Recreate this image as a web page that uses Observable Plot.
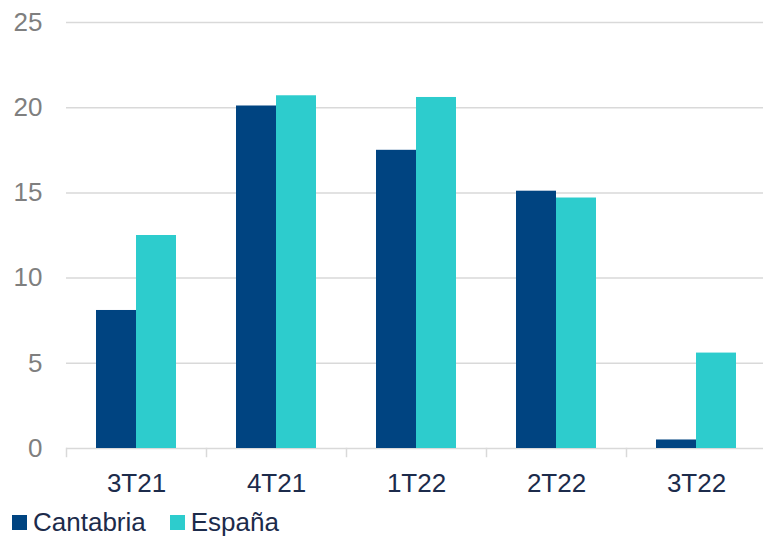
<!DOCTYPE html>
<html>
<head>
<meta charset="utf-8">
<script src="https://cdn.jsdelivr.net/npm/d3@7"></script>
<script src="https://cdn.jsdelivr.net/npm/@observablehq/plot@0.6"></script>
<style>
  body { margin: 0; background: #fff; font-family: "Liberation Sans", Arial, sans-serif; }
  #chart svg { display: block; }
  .legend { display: flex; align-items: center; height: 37px; box-sizing: border-box; padding: 7px 0 0 12px; }
  .legend .item { display: flex; align-items: center; margin-right: 24px; }
  .legend .sw { width: 15px; height: 15px; margin-right: 6px; }
  .legend .lb { font-size: 26px; line-height: 30px; color: #1c2b4b; }
</style>
</head>
<body>
<div id="chart"></div>
<script>
// Quarterly values, Cantabria vs. España
const quarters = ["3T21", "4T21", "1T22", "2T22", "3T22"];
const series = ["Cantabria", "España"];
const cantabria = [8.1, 20.1, 17.5, 15.1, 0.5];
const espana = [12.5, 20.7, 20.6, 14.7, 5.6];
const colors = ["#004481", "#2dcccd"];
const yTicks = [0, 5, 10, 15, 20, 25];

const data = quarters.flatMap((q, i) => [
  {quarter: q, series: series[0], value: cantabria[i]},
  {quarter: q, series: series[1], value: espana[i]}
]);

const chart = Plot.plot({
  width: 763,
  height: 500,
  marginTop: 22,
  marginBottom: 52,
  marginLeft: 65,
  marginRight: -4,
  style: {fontFamily: "Liberation Sans, Arial, sans-serif", background: "#fff", overflow: "hidden"},
  fx: {domain: quarters, padding: 0, label: null},
  x: {domain: series, paddingInner: 0, paddingOuter: 0.735, axis: null},
  y: {domain: [0, 25], label: null},
  color: {domain: series, range: colors},
  marks: [
    Plot.gridY(yTicks, {stroke: "#d9d9d9", strokeOpacity: 1, strokeWidth: 1.5}),
    Plot.axisY(yTicks, {tickSize: 0, tickPadding: 24, fontSize: 26, fill: "#7f7f7f", label: null}),
    Plot.axisFx({anchor: "bottom", tickSize: 0, tickPadding: 25, fontSize: 26, fill: "#1c2b4b", label: null}),
    Plot.barY(data, {fx: "quarter", x: "series", y: "value", fill: "series"}),
    // short separators below the baseline between quarters
    Plot.frame({anchor: "left", stroke: "#d9d9d9", strokeWidth: 1.5, insetTop: 426, insetBottom: -8})
  ]
});
document.getElementById("chart").append(chart);

// legend below the plot
const legend = document.createElement("div");
legend.className = "legend";
series.forEach((s, i) => {
  const item = document.createElement("div");
  item.className = "item";
  const sw = document.createElement("span");
  sw.className = "sw";
  sw.style.background = colors[i];
  const lb = document.createElement("span");
  lb.className = "lb";
  lb.textContent = s;
  item.append(sw, lb);
  legend.append(item);
});
document.getElementById("chart").append(legend);
</script>
</body>
</html>
